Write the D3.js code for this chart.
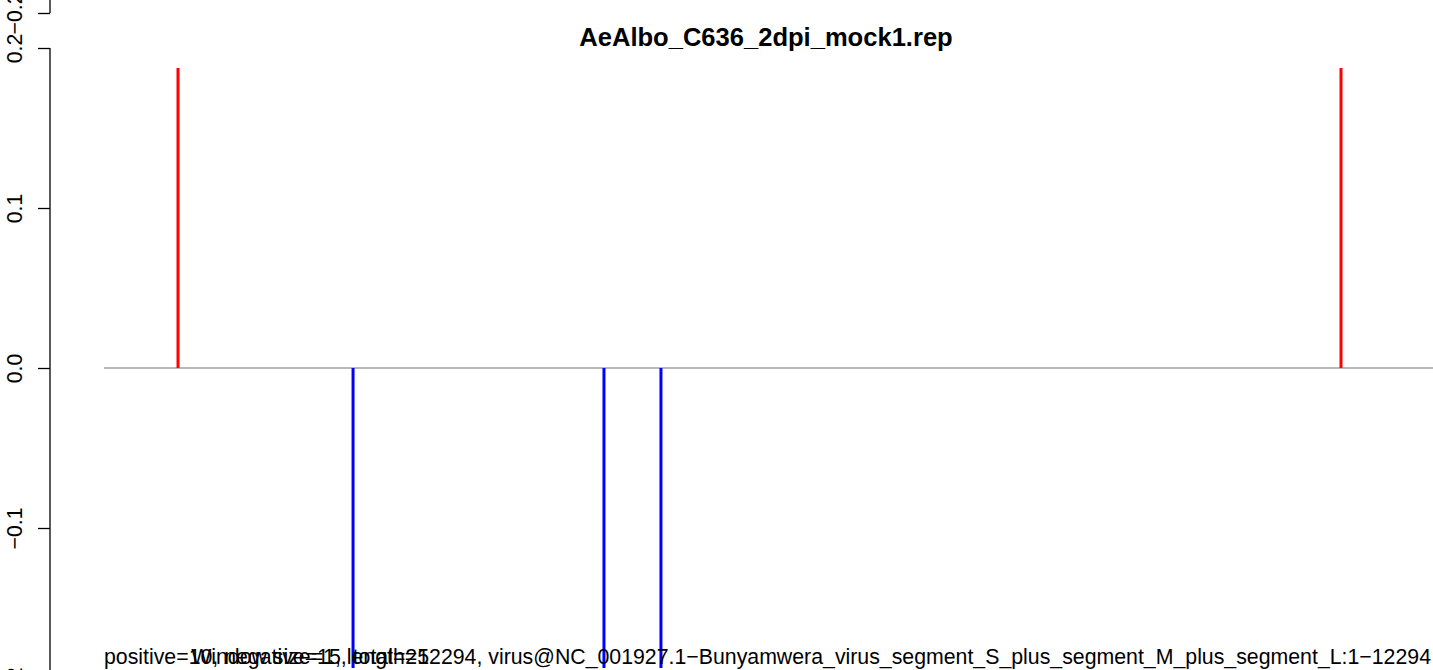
<!DOCTYPE html>
<html>
<head>
<meta charset="utf-8">
<script src="https://cdn.jsdelivr.net/npm/d3@7"></script>
<style>
  html, body { margin: 0; padding: 0; background: #fff; overflow: hidden; }
  svg { display: block; font-family: "Liberation Sans", Arial, Helvetica, sans-serif; }
</style>
</head>
<body>
<svg id="chart" width="1433" height="670"></svg>
<script>
// ---- data ----
const title = "AeAlbo_C636_2dpi_mock1.rep";
const genomeLength = 12294;
const positivePos = [674, 11265];
const positiveVal = [0.1875, 0.1875];
const negativePos = [2268, 4553, 5072];
const negativeVal = [-0.1875, -0.1875, -0.1875];
const yTicks = [-0.2, -0.1, 0.0, 0.1, 0.2];
const infoText1 = "positive=10, negative=15, total=25";
const infoText2 = "Window size=1, length=12294, virus@NC_001927.1\u2212Bunyamwera_virus_segment_S_plus_segment_M_plus_segment_L:1\u221212294";

// ---- layout ----
const svg = d3.select("#chart");
const x = d3.scaleLinear().domain([0, genomeLength]).range([104, 1454]);
const y = d3.scaleLinear().domain([-0.2, 0.2]).range([688, 48]);
const yPrev = d3.scaleLinear().domain([-0.2, 0.2]).range([13, -627]);
const fmt = v => (v < 0 ? "\u2212" : "") + Math.abs(v).toFixed(1);
const baseFont = 21.3;

function drawAxis(scale, ticks) {
  const g = svg.append("g").attr("transform", "translate(50,0)")
    .call(d3.axisLeft(scale).tickValues(ticks).tickSize(12).tickSizeOuter(0).tickFormat(fmt));
  g.select(".domain").attr("stroke", "#000").attr("stroke-width", 1.3)
    .attr("d", `M0,${scale(ticks[0])}V${scale(ticks[ticks.length - 1])}`);
  g.selectAll(".tick line").attr("stroke", "#000").attr("stroke-width", 1.3);
  g.selectAll(".tick text")
    .attr("x", null).attr("dy", null)
    .attr("transform", "translate(-28,0) rotate(-90)")
    .attr("text-anchor", "middle")
    .attr("font-size", baseFont)
    .attr("fill", "#000");
}
drawAxis(yPrev, yTicks);
drawAxis(y, yTicks);

// zero line
svg.append("line")
  .attr("x1", x(0)).attr("x2", x(genomeLength))
  .attr("y1", y(0)).attr("y2", y(0))
  .attr("stroke", "#a0a0a0").attr("stroke-width", 1.5);

// bars
svg.selectAll(".pos").data(positivePos.map((p, i) => ({p, v: positiveVal[i]})))
  .enter().append("line")
  .attr("x1", d => x(d.p)).attr("x2", d => x(d.p))
  .attr("y1", y(0)).attr("y2", d => y(d.v))
  .attr("stroke", "#ff0000").attr("stroke-width", 3);
svg.selectAll(".neg").data(negativePos.map((p, i) => ({p, v: negativeVal[i]})))
  .enter().append("line")
  .attr("x1", d => x(d.p)).attr("x2", d => x(d.p))
  .attr("y1", y(0)).attr("y2", d => y(d.v))
  .attr("stroke", "#0000ff").attr("stroke-width", 3);

// title
svg.append("text")
  .attr("x", 766).attr("y", 46)
  .attr("text-anchor", "middle").attr("font-weight", "bold").attr("font-size", baseFont * 1.2)
  .text(title);

// bottom texts
svg.append("text").attr("x", x(0)).attr("y", 664)
  .attr("font-size", baseFont).text(infoText1);
svg.append("text").attr("x", 1431).attr("y", 664).attr("text-anchor", "end")
  .attr("font-size", baseFont).text(infoText2);
</script>
</body>
</html>
